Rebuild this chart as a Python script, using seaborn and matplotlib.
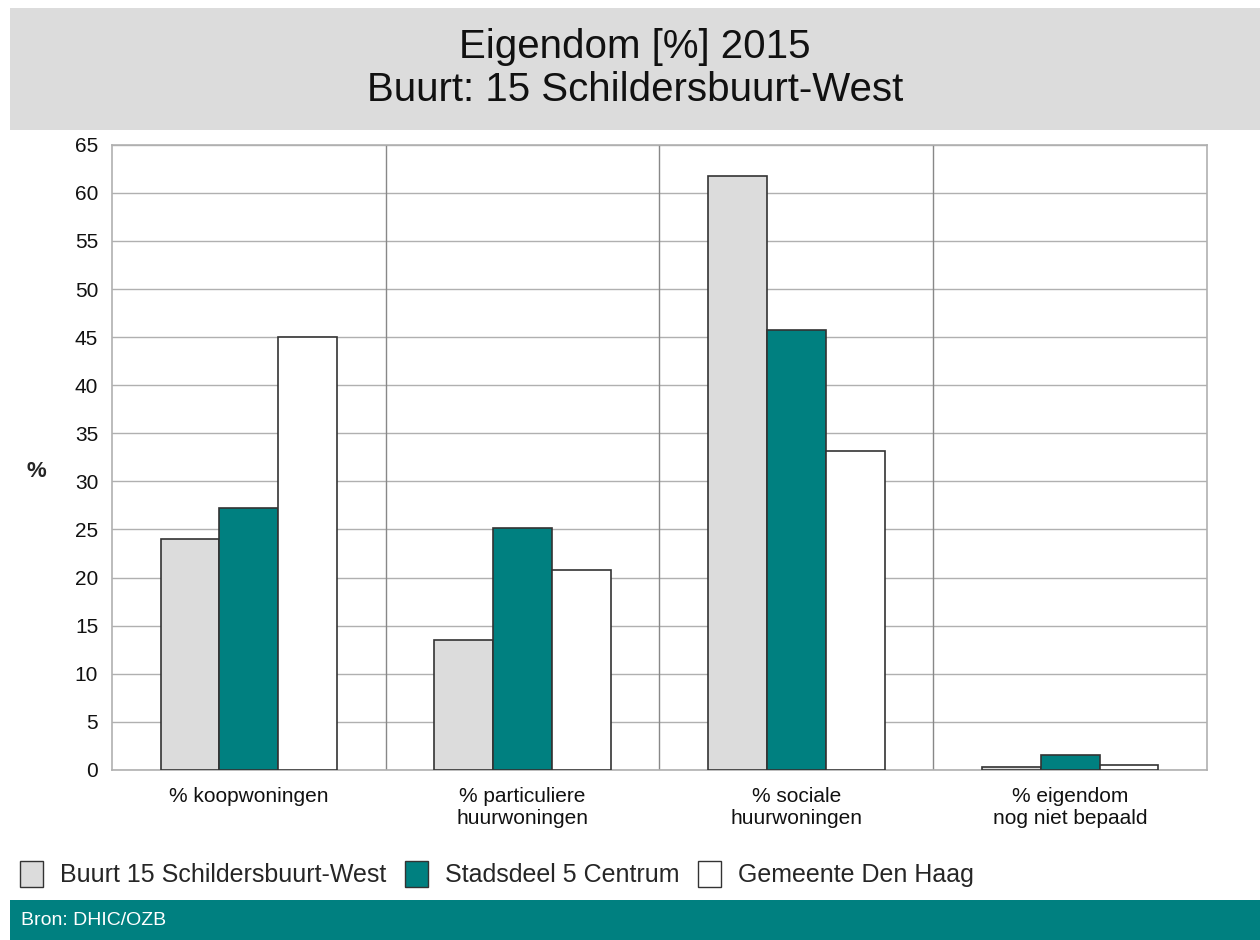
import matplotlib
matplotlib.use('Agg')
import matplotlib.pyplot as plt
import matplotlib.patches as mpatches
import pandas as pd
import seaborn as sns

categories = ['% koopwoningen', '% particuliere\nhuurwoningen',
              '% sociale\nhuurwoningen', '% eigendom\nnog niet bepaald']
series = ['Buurt 15 Schildersbuurt-West', 'Stadsdeel 5 Centrum', 'Gemeente Den Haag']
buurt = [24.0, 13.5, 61.8, 0.3]
stadsdeel = [27.2, 25.2, 45.7, 1.5]
gemeente = [45.0, 20.8, 33.2, 0.5]
colors = ['#dcdcdc', '#008080', '#ffffff']
yticks = list(range(0, 66, 5))

df = pd.DataFrame({
    'categorie': categories * 3,
    'gebied': [s for s in series for _ in categories],
    'waarde': buurt + stadsdeel + gemeente,
})

sns.set_style('white')
plt.rcParams['font.family'] = ['Liberation Sans', 'DejaVu Sans']

fig = plt.figure(figsize=(12.6, 9.4), dpi=100)
ax = fig.add_axes([0.0889, 0.181, 0.869, 0.665])

sns.barplot(data=df, x='categorie', y='waarde', hue='gebied', order=categories,
            hue_order=series, palette=colors, width=0.645, edgecolor='#333333',
            linewidth=1.2, saturation=1, legend=False, ax=ax, zorder=3)

ax.set_xlim(-0.5, 3.5)
ax.set_ylim(0, 65)
ax.set_yticks(yticks)
ax.set_yticklabels([str(t) for t in yticks], fontsize=15, color='#111111')
ax.tick_params(axis='y', length=6, color='#999999', pad=4)
ax.tick_params(axis='x', length=0, pad=12, labelsize=15, labelcolor='#111111')
ax.grid(axis='y', color='#b0b0b0', linewidth=1, zorder=0)
for xv in [0.5, 1.5, 2.5]:
    ax.axvline(xv, color='#888888', linewidth=1, zorder=1)
for sp in ax.spines.values():
    sp.set_color('#b0b0b0')
    sp.set_linewidth(1.2)
ax.set_xlabel('')
ax.set_ylabel('')
fig.text(0.029, 0.498, '%', fontsize=16, fontweight='bold', ha='center', va='center')

# title band
fig.patches.append(mpatches.Rectangle((0.008, 0.862), 0.992, 0.13, transform=fig.transFigure,
                                      facecolor='#dcdcdc', edgecolor='none', zorder=0))
fig.text(0.504, 0.950, 'Eigendom [%] 2015', fontsize=29, ha='center', va='center', color='#111111')
fig.text(0.504, 0.904, 'Buurt: 15 Schildersbuurt-West', fontsize=29, ha='center', va='center',
         color='#111111')

# footer band
fig.patches.append(mpatches.Rectangle((0.008, 0.0), 0.992, 0.043, transform=fig.transFigure,
                                      facecolor='#008080', edgecolor='none', zorder=0))
fig.text(0.017, 0.021, 'Bron: DHIC/OZB', fontsize=14, color='white', ha='left', va='center')

handles = [mpatches.Patch(facecolor=c, edgecolor='#333333', linewidth=1) for c in colors]
fig.legend(handles, series, loc='center left', bbox_to_anchor=(0.008, 0.07), ncol=3,
           frameon=False, fontsize=18, handlelength=0.9, handleheight=1.2,
           handletextpad=0.7, columnspacing=0.75, borderaxespad=0)

fig.savefig('out.png', dpi=100)
